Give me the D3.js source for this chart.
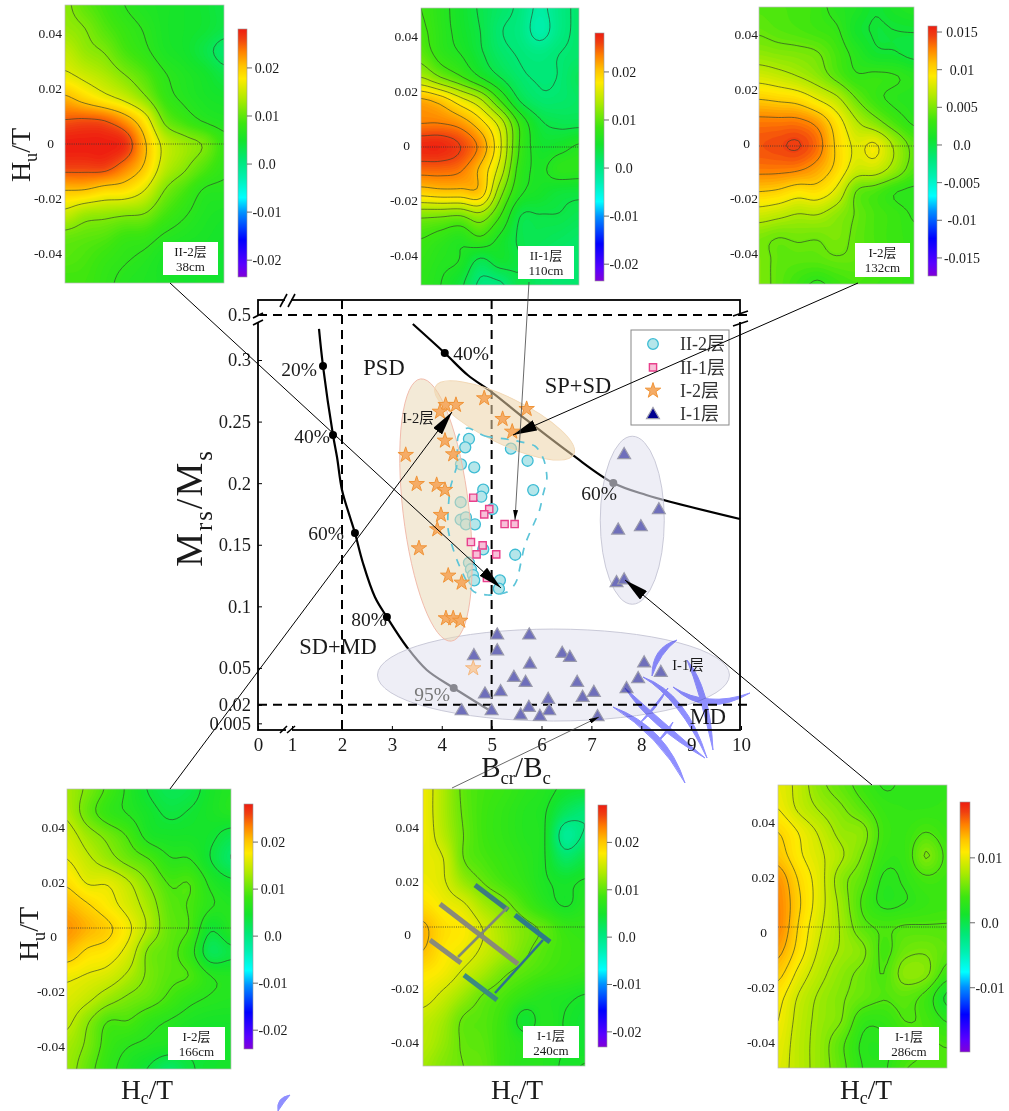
<!doctype html>
<html lang="en">
<head>
<meta charset="utf-8">
<script src="https://d3js.org/d3.v7.min.js"></script>
<style>
  body { margin: 0; background: #fff; }
  svg text { font-family: "Liberation Serif", "Noto Sans CJK SC", serif; fill: #1a1a1a; }
</style>
</head>
<body>
<svg id="fig" width="1009" height="1111"></svg>
<script>
var forc_II2_38 = [
  [12, 10, 8.5, 7, 6, 5.5, 5, 4.5, 3.5],
  [12.5, 11.5, 9.5, 8, 6.8, 5.5, 5, 4.5, 3.5],
  [14.5, 12.5, 11.3, 9, 7.5, 5.8, 5, 3.5, 1.5],
  [16.5, 15, 13.5, 11.5, 9.5, 7.2, 6, 5, 3.5],
  [21, 19, 17, 15, 12, 8.2, 6.5, 5.5, 5],
  [25.2, 25.5, 25, 22.5, 18, 11, 8.5, 6.8, 6],
  [28, 28, 28, 27, 21, 15, 12.8, 11.2, 8],
  [26, 26, 26, 23.5, 20, 14.5, 12, 9.5, 7.5],
  [20.5, 20.3, 19, 18.5, 16, 11.5, 9, 6.8, 6.5],
  [15, 13, 12.5, 12, 11.5, 9, 7.3, 6, 5.5],
  [10.5, 10, 9.5, 8.3, 8, 6.7, 6, 5.5, 5],
  [9.5, 9, 8, 7.2, 6.5, 5.5, 5, 5, 4.5],
  [8.5, 8.5, 7.5, 6.5, 6, 5.5, 5, 5, 4.5]
];
var forc_II1_110 = [
  [8.5, 6.8, 5, 3.2, 1.8, 0.5, -2, 0, 1.5],
  [9, 7, 5.2, 3.5, 1.2, 0.2, -2.5, 0, 1.5],
  [10, 7.5, 6, 3.9, 1.8, 0.8, 0.2, 1, 1.5],
  [13.5, 11, 8.8, 6, 3.5, 1.5, 0.8, 1.1, 2.5],
  [21.5, 20, 17, 14, 8.5, 3.4, 1.5, 1.5, 2],
  [23.5, 23.5, 22.5, 19.5, 15, 8, 4, 3, 3],
  [27.5, 27.5, 26, 22.8, 16.5, 8.3, 5, 5.2, 6.3],
  [24.5, 24.5, 23.8, 20.5, 15, 7.5, 5.7, 7, 7],
  [19.5, 20, 20, 20, 12, 6.5, 5.2, 4.2, 4],
  [11.5, 11.3, 11, 12.5, 8.6, 3.6, 3.4, 3.4, 2.8],
  [8.5, 7.5, 6.5, 8, 5.5, 3.2, 2.8, 2.3, 1.8],
  [7.5, 6.5, 5.8, 2.8, 4.5, 3.6, 2, 1.5, 1.5],
  [7, 6, 4, 0.5, 0.5, 3.3, 2, 1.5, 1.5]
];
var forc_I2_132 = [
  [3.8, 3.6, 3.4, 3, 2, 1.5, 0.6, 1.3, 1.8],
  [4.3, 3.9, 3.6, 3.2, 2.7, 1, 0.4, 0.5, 0.6],
  [5.5, 5.2, 5, 4.6, 3.4, 2, 0.8, 0.6, 0.1],
  [7.7, 7.2, 6.5, 5.5, 4, 2.7, 2.8, 2.6, 2],
  [10.5, 10.2, 9.8, 8.5, 7, 4.6, 3, 2.2, 2],
  [13, 13, 13, 12, 9.5, 6.8, 5.2, 3.5, 2.3],
  [14, 14.3, 14.6, 13.3, 10.2, 8.2, 8.7, 6.2, 4],
  [13, 13, 12.8, 11.8, 10, 7.6, 7.5, 5.8, 3.8],
  [10.5, 10.2, 9.4, 9.6, 8, 4.5, 3.6, 2.6, 2.2],
  [7.5, 7, 6.4, 6.5, 5.5, 4.4, 3.5, 3, 2.4],
  [5, 4.5, 4.7, 4.6, 5, 4.2, 3.5, 3, 2.7],
  [5, 4.2, 4, 4, 4.3, 4.2, 3.6, 3.1, 2.6],
  [5, 4.1, 3.1, 2.3, 3, 3.5, 3.2, 3, 2.6]
];
var forc_I2_166 = [
  [13, 11, 8.5, 6, 3.8, 2.5, 3, 5, 6],
  [13.5, 10.2, 7.6, 6.3, 4.8, 3.6, 4.2, 5.2, 6],
  [15.2, 12.7, 10.8, 8.7, 5.6, 5, 5, 4.5, 3],
  [16.5, 14.5, 12.5, 10.5, 9, 6.7, 6.5, 4, 1.5],
  [18.5, 16.3, 16.2, 14.2, 11.3, 8.8, 8.9, 6, 4.5],
  [21, 19.3, 17.5, 15.5, 12.8, 9.7, 8.8, 6.7, 6],
  [22.5, 21, 19.5, 17, 13.4, 10, 8.8, 4.3, 6],
  [20.5, 18.5, 17.7, 15.5, 11, 9.7, 7.5, 2.5, 3.5],
  [17, 16.3, 15.5, 13.5, 11, 9.5, 8.9, 6.5, 6],
  [15.8, 14.5, 12.5, 11, 10, 8.5, 7, 6.3, 6],
  [14.5, 11.7, 8.9, 8.8, 7.2, 6.3, 5.5, 5, 5],
  [13, 11, 8, 6.6, 6, 5.5, 4.5, 4.2, 4.8],
  [12.5, 10, 7.3, 5.5, 3.8, 1.5, 3.7, 4.5, 5]
];
var forc_I1_240 = [
  [17, 13.5, 10, 8.7, 8, 7, 6.3, 5, 4.5],
  [17, 13.5, 10.2, 8.5, 7.5, 6.5, 5.7, 2.5, 1],
  [17, 14, 10.5, 8.5, 7.5, 6.5, 5.6, -1, 0.8],
  [16.5, 15.5, 10.5, 9, 8, 7, 5.6, 2, 3.5],
  [17, 15.8, 12.5, 10.3, 8.8, 7.5, 5.8, 5, 5.7],
  [18.5, 17, 15.8, 13, 11.2, 9, 6.8, 5.3, 6.5],
  [21, 18.5, 17.5, 15.3, 13, 11.3, 10, 8, 7.5],
  [20.5, 18, 16.8, 15, 13, 11, 9.5, 8.5, 8],
  [18, 17, 15, 13, 10.8, 9.6, 8.7, 8, 7.5],
  [16.5, 14.8, 12.5, 10.2, 9, 7.5, 6.5, 6, 5.3],
  [14.5, 13, 10.2, 9.5, 8, 4.5, 6.5, 5.4, 4.5],
  [14, 12.3, 10.2, 9.7, 8, 6.7, 6.5, 5.5, 4.5],
  [13, 11.5, 10.5, 10, 8, 6.7, 6.5, 5.2, 5.6]
];
var forc_I1_286 = [
  [10, 8.4, 6.4, 5.2, 3.9, 2.9, 3.2, 3.3, 3.2],
  [10.5, 8.7, 7.3, 6.2, 4.9, 3.6, 3.3, 3.3, 3.4],
  [12, 10.4, 8.7, 7, 6.5, 4, 3.6, 4.5, 3.7],
  [12.8, 10.8, 9.3, 7.7, 5.9, 3.6, 3.6, 6.1, 4.2],
  [14.5, 11.8, 9.6, 6.6, 5, 2.8, 3.2, 4.2, 3.9],
  [15, 12.2, 9.6, 7, 4.3, 2.7, 3, 3.6, 3.8],
  [15, 11.8, 9.2, 7.3, 5, 4.3, 4.6, 4.6, 4.6],
  [14, 11.3, 8.7, 7.3, 6.3, 4.2, 5.5, 5.8, 5],
  [12.5, 10, 8, 6.6, 5.6, 4.5, 6.6, 6.3, 3.8],
  [11, 8.8, 7.2, 6.2, 5.3, 4.6, 5, 4, 1.2],
  [10.5, 8.4, 7, 6, 3.5, 3.4, 4.5, 4.2, 2.9],
  [10, 8.2, 6.8, 4.8, 2.8, 2.7, 3.7, 4.6, 4.4],
  [9.7, 8.2, 6.8, 5, 3, 2.8, 4.4, 4.6, 4.6]
];

// contour levels of each FORC diagram, same unit
var levels_II2_38 = [2.5, 7, 11.5, 16, 20.5, 25];
var levels_II1_110 = [-1.5, 1, 3.5, 6, 8.5, 11, 13.5, 16, 18.5, 21, 23.5, 26];
var levels_I2_132 = [0.5, 2.5, 4.5, 6.5, 8.5, 10.5, 12.5, 14.5];
var levels_I2_166 = [1.5, 4, 6.5, 9, 11.5, 14, 16.5, 19];
var levels_I1_240 = [0.5, 5.5, 10.5, 15.5, 20.5];
var levels_I1_286 = [1.5, 3, 4.5, 6, 7.5, 9, 10.5, 12, 13.5];

// Day plot points, [Bcr/Bc, Mrs/Ms]
var pts_II2 = [[4.545,.2359],[4.471,.2291],[4.385,.2153],[4.651,.2129],[5.387,.228],[5.721,.2182],[5.834,.1944],[4.832,.1947],[4.792,.189],[4.379,.1845],[5.012,.179],[4.379,.1703],[4.485,.1723],[4.485,.1666],[4.665,.1666],[4.832,.1463],[5.473,.1419],[4.545,.1354],[4.585,.1301],[4.625,.1254],[4.651,.1211],[5.166,.1211],[5.146,.1143]];
var pts_II1 = [[4.631,.1882],[4.952,.179],[4.852,.1747],[5.26,.1668],[5.461,.1668],[4.585,.1522],[4.82,.1495],[4.699,.1422],[5.092,.1422],[4.906,.123]];
var pts_I2 = [[4.852,.2689],[5.702,.2602],[5.22,.2521],[5.413,.2418],[4.078,.2635],[4.285,.2635],[3.964,.258],[4.064,.2345],[4.23,.2234],[3.277,.2229],[3.497,.1993],[3.898,.1985],[4.064,.1945],[3.984,.1742],[3.91,.1625],[3.543,.1471],[4.13,.1249],[4.399,.1192],[4.084,.0903],[4.23,.0903],[4.371,.0883]];
var pts_I2_faded = [[4.631,.0497]];
var pts_I1 = [[7.657,.2237],[8.353,.179],[7.537,.1625],[7.992,.1652],[7.505,.1198],[7.657,.122],[5.112,.0773],[5.754,.0773],[5.112,.0645],[6.415,.0624],[6.569,.0591],[5.768,.0537],[8.058,.0546],[8.393,.0469],[7.938,.0418],[5.447,.0429],[5.681,.0388],[6.715,.0388],[5.18,.0313],[7.05,.0307],[6.824,.0266],[6.134,.025],[5.747,.0185],[6.154,.0158],[5.581,.0123],[5.968,.0112],[7.124,.011],[7.705,.0337],[5,.0158],[4.645,.0605],[4.866,.0294],[4.399,.0158]];

// mixing curves of the Day plot
var curve_SDMD = [[1.54,.438],[1.62,.2951],[1.82,.2391],[1.9,.2212],[2,.1945],[2.16,.1725],[2.26,.1595],[2.42,.1352],[2.66,.1076],[2.9,.0913],[3.3,.067],[3.7,.0483],[4.24,.0337],[4.98,.015]];
var dots_SDMD = [[1.62,.2951],[1.82,.2391],[2.26,.1595],[2.9,.0913],[4.24,.0337]];
var curve_SPSD = [[3.42,.46],[4.06,.331],[4.52,.2878],[5,.274],[5.7,.2513],[6.62,.2229],[7.44,.2001],[8.1,.1904],[9.98,.1709]];
var dots_SPSD = [[4.06,.331],[7.44,.2001]];
var outline_II2 = [[4.525,.2448],[4.866,.2383],[5.407,.235],[5.868,.2302],[6.048,.2188],[6.108,.2042],[6.028,.1904],[5.948,.1766],[5.667,.1498],[5.507,.1214],[5.307,.1116],[4.926,.1092],[4.605,.1133],[4.305,.1376],[4.124,.1636],[4.164,.1944],[4.305,.2148],[4.325,.2375]];

var xTicks = [0,1,2,3,4,5,6,7,8,9,10];
var yTicks = [0.5,0.3,0.25,0.2,0.15,0.1,0.05,0.02,0.005];
var huTicks = [0.04,0.02,0,-0.02,-0.04];
var legendNames = ["II-2层","II-1层","I-2层","I-1层"];

var svg = d3.select("#fig");

// rainbow of the colour bars, position 0 = bottom, 1 = top
var rainbow = [[0,"#8000d8"],[.05,"#5a00ff"],[.15,"#0000ff"],[.26,"#0090ff"],[.32,"#00ffff"],[.4,"#00f0b0"],[.47,"#00e878"],[.55,"#14e42c"],[.62,"#3ce610"],[.72,"#b0ea00"],[.8,"#ffea00"],[.85,"#ffc400"],[.91,"#ff8000"],[.96,"#f04010"],[1,"#ee1c10"]];
var rainbowScale = d3.scaleLinear().domain(rainbow.map(d => d[0])).range(rainbow.map(d => d[1])).clamp(true);

var defs = svg.append("defs");
var grad = defs.append("linearGradient").attr("id","bar").attr("x1",0).attr("x2",0).attr("y1",1).attr("y2",0);
rainbow.forEach(d => grad.append("stop").attr("offset",d[0]).attr("stop-color",d[1]));

function headMarker(id, len, wid){
  defs.append("marker").attr("id",id).attr("markerUnits","userSpaceOnUse")
    .attr("markerWidth",len).attr("markerHeight",wid).attr("refX",len).attr("refY",wid/2).attr("orient","auto")
    .append("path").attr("d",`M0,0L${len},${wid/2}L0,${wid}Z`).attr("fill","#000");
}
headMarker("headBig",24,11);
headMarker("headSmall",10,5);

// catmull-rom lookup in a grid
function cub(a,b,c,d,t){ return .5*(2*b+(c-a)*t+(2*a-5*b+4*c-d)*t*t+(3*b-a-3*c+d)*t*t*t); }
function sampleGrid(g,gx,gy){
  var nr=g.length, nc=g[0].length;
  gx=Math.max(0,Math.min(nc-1,gx)); gy=Math.max(0,Math.min(nr-1,gy));
  var i=Math.min(nc-2,Math.floor(gx)), j=Math.min(nr-2,Math.floor(gy)), tx=gx-i, ty=gy-j;
  var col=[-1,0,1,2].map(dj=>{
    var r=g[Math.max(0,Math.min(nr-1,j+dj))];
    return cub(r[Math.max(0,i-1)],r[i],r[i+1],r[Math.min(nc-1,i+2)],tx);
  });
  return cub(col[0],col[1],col[2],col[3],ty);
}

// text with subscripts, parts = [[text, isSub],...]
function subText(g, parts, size, drop){
  var t=g.append("text").attr("font-size",size);
  var down=false, off=size*(drop||.25);
  parts.forEach(p=>{
    var s=t.append("tspan").text(p[0]).attr("font-size",p[1]?size*.65:size);
    if(p[1]!==down) s.attr("dy",p[1]?off:-off);
    down=p[1];
  });
  return t;
}

var panels = [
  {id:"p1",grid:forc_II2_38,levels:levels_II2_38,x:[65,224],y:[5,283],zero:144,lab:[33,253],labR:62,bar:[238,247,29,277],barDom:[-23.5,28.1],barTicks:[20,10,0,-10,-20],barFmt:["0.02","0.01","0.0","-0.01","-0.02"],barOff:20,box:[163,242,55,33],name:["II-2层","38cm"]},
  {id:"p2",grid:forc_II1_110,levels:levels_II1_110,x:[421,579],y:[8,285],zero:147,lab:[36,255],labR:418,bar:[595,604,33,281],barDom:[-23.5,28.1],barTicks:[20,10,0,-10,-20],barFmt:["0.02","0.01","0.0","-0.01","-0.02"],barOff:20,box:[518,246,56,33],name:["II-1层","110cm"]},
  {id:"p3",grid:forc_I2_132,levels:levels_I2_132,x:[759,914],y:[7,284],zero:146,lab:[34,253],labR:758,bar:[928,937,26,276],barDom:[-17.4,15.8],barTicks:[15,10,5,0,-5,-10,-15],barFmt:["0.015","0.01","0.005","0.0","-0.005","-0.01","-0.015"],barOff:25,box:[855,243,55,34],name:["I-2层","132cm"]},
  {id:"p4",grid:forc_I2_166,levels:levels_I2_166,x:[67,231],y:[789,1069],zero:928,lab:[827,1046],labR:65,bar:[244,253,804,1049],barDom:[-24,28.1],barTicks:[20,10,0,-10,-20],barFmt:["0.02","0.01","0.0","-0.01","-0.02"],barOff:20,box:[168,1027,57,33],name:["I-2层","166cm"]},
  {id:"p5",grid:forc_I1_240,levels:levels_I1_240,x:[423,585],y:[789,1066],zero:927,lab:[827,1042],labR:419,bar:[598,607,805,1047],barDom:[-23.2,27.9],barTicks:[20,10,0,-10,-20],barFmt:["0.02","0.01","0.0","-0.01","-0.02"],barOff:20,box:[523,1026,56,32],name:["I-1层","240cm"]},
  {id:"p6",grid:forc_I1_286,levels:levels_I1_286,x:[778,947],y:[785,1068],zero:927,lab:[822,1042],labR:775,bar:[960,970,802,1052],barDom:[-19.9,18.6],barTicks:[10,0,-10],barFmt:["0.01","0.0","-0.01"],barOff:20,box:[879,1027,60,33],name:["I-1层","286cm"]}
];

panels.forEach(drawPanel);

function drawPanel(p){
  var k=6, pad=3, nr=p.grid.length, nc=p.grid[0].length;
  var w=(nc-1)*k+1+2*pad, h=(nr-1)*k+1+2*pad, field=new Array(w*h);
  for(var iy=0;iy<h;iy++) for(var ix=0;ix<w;ix++) field[iy*w+ix]=sampleGrid(p.grid,(ix-pad)/k,(iy-pad)/k);

  var sx=d3.scaleLinear().domain([pad+.5,pad+.5+(nc-1)*k]).range(p.x);
  var sy=d3.scaleLinear().domain([pad+.5,pad+.5+(nr-1)*k]).range(p.y);
  var path=d3.geoPath(d3.geoTransform({point:function(x,y){this.stream.point(sx(x),sy(y));}}));
  var colour=v=>rainbowScale((v-p.barDom[0])/(p.barDom[1]-p.barDom[0]));

  defs.append("clipPath").attr("id","clip-"+p.id).append("rect")
    .attr("x",p.x[0]).attr("y",p.y[0]).attr("width",p.x[1]-p.x[0]).attr("height",p.y[1]-p.y[0]);

  var g=svg.append("g").attr("class","panel");
  var map=g.append("g").attr("clip-path",`url(#clip-${p.id})`);
  var ext=d3.extent(field), step=.35;
  map.append("rect").attr("x",p.x[0]).attr("y",p.y[0]).attr("width",p.x[1]-p.x[0]).attr("height",p.y[1]-p.y[0]).attr("fill",colour(ext[0]));
  var fills=d3.range(ext[0],ext[1],step);
  var cs=d3.contours().size([w,h]).thresholds(fills)(field);
  map.selectAll("path.f").data(cs).join("path").attr("class","f").attr("d",path).attr("fill",d=>colour(d.value+step/2));
  var ls=d3.contours().size([w,h]).thresholds(p.levels)(field);
  map.selectAll("path.l").data(ls).join("path").attr("class","l").attr("d",path).attr("fill","none").attr("stroke","#2f3f2a").attr("stroke-opacity",.8).attr("stroke-width",.8);
  map.append("line").attr("x1",p.x[0]).attr("x2",p.x[1]).attr("y1",p.zero).attr("y2",p.zero)
    .attr("stroke","#333").attr("stroke-width",.8).attr("stroke-dasharray","1 1.2");
  g.append("rect").attr("x",p.x[0]).attr("y",p.y[0]).attr("width",p.x[1]-p.x[0]).attr("height",p.y[1]-p.y[0]).attr("fill","none").attr("stroke","#bbb").attr("stroke-width",.7);

  // Hu tick labels
  var hu=d3.scaleLinear().domain([.04,-.04]).range(p.lab);
  var ax=g.append("g").attr("transform",`translate(${p.labR},0)`)
    .call(d3.axisLeft(hu).tickValues(huTicks).tickSize(0).tickPadding(0).tickFormat(d=>d===0?"0":String(d)));
  ax.select(".domain").remove();
  ax.selectAll("text").attr("font-size",13.5).attr("font-family",null).attr("dx",d=>d===0?-8:0);

  // colour bar
  var b=p.bar, sb=d3.scaleLinear().domain(p.barDom).range([b[3],b[2]]);
  g.append("rect").attr("x",b[0]).attr("y",b[2]).attr("width",b[1]-b[0]).attr("height",b[3]-b[2]).attr("fill","url(#bar)").attr("stroke","#999").attr("stroke-width",.6);
  g.selectAll("line.bt").data(p.barTicks).join("line").attr("class","bt")
    .attr("x1",b[1]).attr("x2",b[1]+5).attr("y1",d=>sb(d)).attr("y2",d=>sb(d)).attr("stroke","#444").attr("stroke-width",.8);
  g.selectAll("text.bl").data(p.barTicks).join("text").attr("class","bl")
    .attr("x",b[1]+p.barOff).attr("y",d=>sb(d)).attr("dy",".35em").attr("text-anchor","middle").attr("font-size",14)
    .text((d,i)=>p.barFmt[i]);

  // sample label box
  var bx=p.box;
  g.append("rect").attr("x",bx[0]).attr("y",bx[1]).attr("width",bx[2]).attr("height",bx[3]).attr("fill","#fff");
  g.selectAll("text.nm").data(p.name).join("text").attr("class","nm")
    .attr("x",bx[0]+bx[2]/2).attr("y",(d,i)=>bx[1]+14+i*15).attr("text-anchor","middle").attr("font-size",13).text(d=>d);
}

// Day plot, both axes are broken
var x=d3.scaleLinear().domain([0,1,2,10]).range([258,292,342,741]);
var y=d3.scaleLinear().domain([0,.3,.5,.56]).range([729.5,360,315,300]);

var day=svg.append("g");
day.append("rect").attr("x",258).attr("y",300).attr("width",482).attr("height",430).attr("fill","none").attr("stroke","#000").attr("stroke-width",1.8);

var ax=day.append("g").attr("transform","translate(0,730)")
  .call(d3.axisBottom(x).tickValues(xTicks).tickSize(-4).tickPadding(8).tickFormat(d3.format("d")));
ax.select(".domain").remove();
ax.selectAll("text").attr("font-size",19).attr("font-family",null);
var ay=day.append("g").attr("transform","translate(258,0)")
  .call(d3.axisLeft(y).tickValues(yTicks).tickSize(-4).tickPadding(7).tickFormat(d=>String(d)));
ay.select(".domain").remove();
ay.selectAll("text").attr("font-size",18.5).attr("font-family",null);

var lineGen=d3.line().x(d=>x(d[0])).y(d=>y(d[1]));
day.append("path").attr("d",lineGen.curve(d3.curveCatmullRom)(curve_SDMD)).attr("fill","none").attr("stroke","#000").attr("stroke-width",2.2);
day.append("path").attr("d",lineGen.curve(d3.curveCatmullRom)(curve_SPSD)).attr("fill","none").attr("stroke","#000").attr("stroke-width",2.2);
day.selectAll("circle.mix").data(dots_SDMD.concat(dots_SPSD)).join("circle").attr("class","mix")
  .attr("cx",d=>x(d[0])).attr("cy",d=>y(d[1])).attr("r",4).attr("fill","#000");

// translucent ellipses over the lines, centres in data units
var ell=[
  {c:[6.24,.0442],rx:176,ry:46,rot:0,fill:"rgb(227,227,240)",stroke:"#c4c4d4",a:.6},
  {c:[3.884,.1782],rx:33,ry:132,rot:-6.7,fill:"rgb(233,216,182)",stroke:"#f0b8a8",a:.55},
  {c:[5.26,.2509],rx:77,ry:23,rot:26,fill:"rgb(237,211,168)",stroke:"#f2d8b5",a:.55},
  {c:[7.82,.1699],rx:32,ry:84,rot:0,fill:"rgb(227,227,240)",stroke:"#c4c4d4",a:.6}
];
function drawEllipse(e){
  day.append("ellipse").attr("transform",`translate(${x(e.c[0])},${y(e.c[1])}) rotate(${e.rot})`)
    .attr("rx",e.rx).attr("ry",e.ry).attr("fill",e.fill).attr("fill-opacity",e.a).attr("stroke",e.stroke).attr("stroke-width",.9);
}
drawEllipse(ell[0]);

// region boundaries, black also inside the lower ellipse
var dash="9 6";
[.5,.02].forEach(v=>day.append("line").attr("x1",258).attr("x2",750).attr("y1",y(v)).attr("y2",y(v)).attr("stroke","#000").attr("stroke-width",2).attr("stroke-dasharray",dash));
[2,5].forEach(v=>day.append("line").attr("x1",x(v)).attr("x2",x(v)).attr("y1",300).attr("y2",730).attr("stroke","#000").attr("stroke-width",2).attr("stroke-dasharray",dash));

// axis breaks
var breaks=[[[285,300],[291,300]],[[286,730],[292,730]],[[258,315],[258,322]],[[740,316],[740,322]]];
breaks.forEach(b=>day.append("line").attr("x1",b[0][0]).attr("y1",b[0][1]).attr("x2",b[1][0]).attr("y2",b[1][1]).attr("stroke","#fff").attr("stroke-width",3));
var slashes=[[280,307,287,294],[288,307,295,294],[280,733,287,726],[287,733,295,726],[253,318,263,313],[253,325,263,320],[733,316,748,311],[733,326,748,321]];
slashes.forEach(s=>day.append("line").attr("x1",s[0]).attr("y1",s[1]).attr("x2",s[2]).attr("y2",s[3]).attr("stroke","#000").attr("stroke-width",1.6));

var marker=(type,size)=>d3.symbol().type(type).size(size)();
var starPath=marker(d3.symbolStar,74), triPath=marker(d3.symbolTriangle,72), sqPath=marker(d3.symbolSquare,52);

function drawPts(data,d,fill,stroke,sw,dy){
  day.selectAll(null).data(data).join("path").attr("d",d)
    .attr("transform",p=>`translate(${x(p[0])},${y(p[1])+(dy||0)})`)
    .attr("fill",fill).attr("stroke",stroke).attr("stroke-width",sw);
}

day.selectAll("circle.ii2").data(pts_II2).join("circle").attr("class","ii2")
  .attr("cx",d=>x(d[0])).attr("cy",d=>y(d[1])).attr("r",5.5).attr("fill","#b5e6ea").attr("stroke","#3dbcd4").attr("stroke-width",1.3);

ell.slice(1).forEach(drawEllipse);

day.append("path").attr("d",lineGen.curve(d3.curveCardinalClosed.tension(.3))(outline_II2)).attr("fill","none")
  .attr("stroke","#5cc4d8").attr("stroke-width",1.7).attr("stroke-dasharray","8 8");

drawPts(pts_II1,sqPath,"#f8c0d8","#e8408c",1.4);
drawPts(pts_I2,starPath,"#f5ac66","#f09438",1);
drawPts(pts_I2_faded,starPath,"#f8cfa8","#f4b880",1);
drawPts(pts_I1,triPath,"#6f6fbb","#9a9aac",1.2,1);

// labels in the plot
var labs=[["PSD",384,367,22.5],["SP+SD",578,385,22.5],["SD+MD",338,646,22.5],["MD",708,716,22.5],
  ["20%",299,369,19.5],["40%",312,436,19.5],["60%",326,533,19.5],["80%",369,619,19.5],["40%",471,353,19.5],["60%",599,493,19.5],
  ["I-2层",418,418,14.5],["I-1层",688,665,14.5]];
labs.forEach(l=>day.append("text").attr("x",l[1]).attr("y",l[2]).attr("dy",".35em").attr("text-anchor","middle").attr("font-size",l[3]).text(l[0]));
day.append("text").attr("x",432).attr("y",694).attr("dy",".35em").attr("text-anchor","middle").attr("font-size",19.5).style("fill","#777").text("95%");

// legend
var lg=day.append("g");
lg.append("rect").attr("x",631).attr("y",330).attr("width",98).attr("height",95).attr("fill","none").attr("stroke","#888").attr("stroke-width",1);
var legY=d3.scalePoint().domain(legendNames).range([344,414]);
lg.selectAll("text").data(legendNames).join("text").attr("x",680).attr("y",d=>legY(d)).attr("dy",".35em").attr("font-size",18).style("fill","#333").text(d=>d);
lg.append("circle").attr("cx",653).attr("cy",legY(legendNames[0])).attr("r",5.3).attr("fill","#b5e6ea").attr("stroke","#3dbcd4").attr("stroke-width",1.3);
lg.append("path").attr("d",sqPath).attr("transform",`translate(653,${legY(legendNames[1])})`).attr("fill","#f8c0d8").attr("stroke","#e8408c").attr("stroke-width",1.4);
lg.append("path").attr("d",starPath).attr("transform",`translate(653,${legY(legendNames[2])})`).attr("fill","#f5ac66").attr("stroke","#f09438");
lg.append("path").attr("d",triPath).attr("transform",`translate(653,${legY(legendNames[3])+1})`).attr("fill","#000090").attr("stroke","#9a9aac").attr("stroke-width",1.2);

// leader arrows from each FORC panel to its group
var arrows=[
  [170,283,501,588,"headBig"],[858,283,513,435,"headBig"],[170,789,452,412,"headBig"],[872,785,625,580,"headBig"],
  [529,282,515,520,"headSmall"],[452,788,599,717,"headSmall"]
];
arrows.forEach(a=>svg.append("line").attr("x1",a[0]).attr("y1",a[1]).attr("x2",a[2]).attr("y2",a[3])
  .attr("stroke",a[4]==="headBig"?"#000":"#444").attr("stroke-width",a[4]==="headBig"?1:.8).attr("marker-end",`url(#${a[4]})`));

// axis titles
subText(svg,[["M",false],["rs",true],["/M",false],["s",true]],38).attr("text-anchor","middle").style("letter-spacing","2px").attr("transform","translate(202,508) rotate(-90)");
subText(svg,[["B",false],["cr",true],["/B",false],["c",true]],29).attr("text-anchor","middle").attr("transform","translate(516,777)");
subText(svg,[["H",false],["u",true],["/T",false]],28).attr("text-anchor","middle").attr("transform","translate(30,155) rotate(-90)");
subText(svg,[["H",false],["u",true],["/T",false]],28).attr("text-anchor","middle").attr("transform","translate(38,934) rotate(-90)");
[147,517,866].forEach(cx=>subText(svg,[["H",false],["c",true],["/T",false]],27.5,.18).attr("text-anchor","middle").attr("transform",`translate(${cx},1099)`));

// brush strokes pasted over the figure, start, control, end, width
function feather(f){
  var s=f[0],c=f[1],e=f[2],w=f[3];
  var dx=e[0]-s[0], dy=e[1]-s[1], len=Math.hypot(dx,dy), ox=-dy/len*w, oy=dx/len*w;
  return `M${s}Q${c} ${e}Q${c[0]+ox},${c[1]+oy} ${s}Z`;
}
var blueStrokes=[
  [[677,640],[660,653],[652,676],10],[[643,677],[687,693],[707,758],10],[[673,687],[707,708],[750,693],11],
  [[687,660],[710,687],[713,750],11],[[625,688],[657,717],[705,758],12],[[613,707],[667,727],[685,783],12],
  [[638,725],[653,708],[668,688],4],[[657,742],[665,732],[673,722],4],[[290,1095],[283,1103],[278,1111],9]
];
svg.append("g").style("mix-blend-mode","multiply").selectAll("path").data(blueStrokes).join("path")
  .attr("d",feather).attr("fill","#8f8fff").attr("stroke","#8f8fff").attr("stroke-width",1);

// arrows drawn over the 240cm panel
var overArrows=[[440,904,518,964,5,"#8a8a78"],[430,940,461,963,5,"#8b8b7a"],[475,885,508,910,5,"#3d7a80"],[515,915,550,942,5,"#2e7b88"],[464,975,497,1000,5,"#3b8a80"],[458,957,508,907,2.5,"#808a78"],[495,993,543,940,2.5,"#2e7090"]];
svg.append("g").selectAll("line").data(overArrows).join("line")
  .attr("x1",d=>d[0]).attr("y1",d=>d[1]).attr("x2",d=>d[2]).attr("y2",d=>d[3]).attr("stroke-width",d=>d[4]).attr("stroke",d=>d[5]);
</script>
</body>
</html>
